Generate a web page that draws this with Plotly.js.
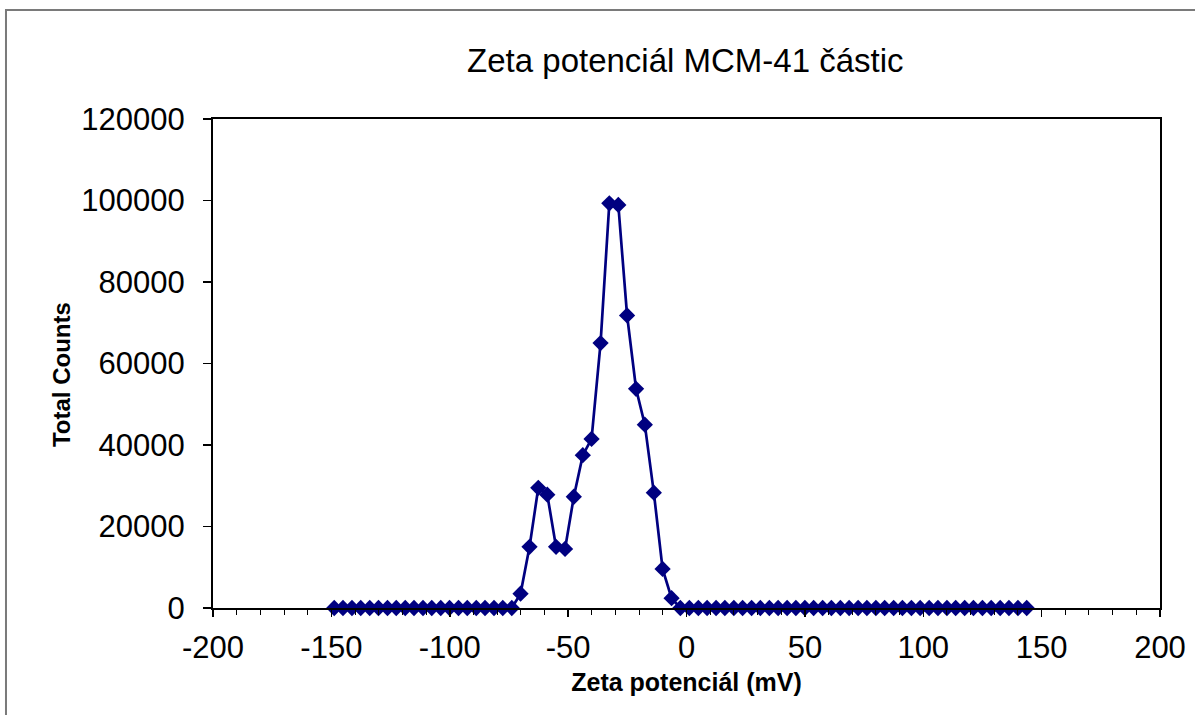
<!DOCTYPE html>
<html>
<head>
<meta charset="utf-8">
<script src="https://cdn.plot.ly/plotly-3.0.1.min.js"></script>
<style>
  html, body { margin: 0; padding: 0; background: #ffffff; overflow: hidden; }
  #chart { width: 1195px; height: 715px; }
</style>
</head>
<body>
<div id="chart"></div>
<script>
// Zeta potential bins (mV)
const zetaPotential = [
  -148.8, -145.1, -141.3, -137.6, -133.8, -130.1, -126.3, -122.6, -118.8, -115.1,
  -111.3, -107.6, -103.8, -100.1, -96.3, -92.6, -88.8, -85.1, -81.3, -77.6,
  -73.8, -70.1, -66.3, -62.6, -58.8, -55.1, -51.3, -47.6, -43.8, -40.1,
  -36.3, -32.6, -28.8, -25.1, -21.3, -17.6, -13.8, -10.1, -6.3, -2.6,
  1.2, 5.0, 8.7, 12.5, 16.2, 20.0, 23.7, 27.5, 31.2, 35.0,
  38.7, 42.5, 46.2, 50.0, 53.7, 57.5, 61.2, 65.0, 68.7, 72.5,
  76.2, 80.0, 83.7, 87.5, 91.2, 95.0, 98.7, 102.5, 106.2, 110.0,
  113.7, 117.5, 121.2, 125.0, 128.7, 132.5, 136.2, 140.0, 143.7
];
// Total counts per bin
const totalCounts = [
  0, 0, 0, 0, 0, 0, 0, 0, 0, 0,
  0, 0, 0, 0, 0, 0, 0, 0, 0, 0,
  0, 3500, 15000, 29500, 27800, 15000, 14500, 27300, 37500, 41500,
  65000, 99300, 98900, 71800, 53800, 45000, 28300, 9600, 2400, 0,
  0, 0, 0, 0, 0, 0, 0, 0, 0, 0,
  0, 0, 0, 0, 0, 0, 0, 0, 0, 0,
  0, 0, 0, 0, 0, 0, 0, 0, 0, 0,
  0, 0, 0, 0, 0, 0, 0, 0, 0
];
// Axis tick values and labels
const xTickVals = [-200, -150, -100, -50, 0, 50, 100, 150, 200];
const xTickText = ['-200', '-150', '-100', '-50', '0', '50', '100', '150', '200'];
const yTickVals = [0, 20000, 40000, 60000, 80000, 100000, 120000];
const yTickText = ['0', '20000', '40000', '60000', '80000', '100000', '120000'];

const chartTitle = 'Zeta potenciál MCM-41 částic';
const xTitle = 'Zeta potenciál (mV)';
const yTitle = 'Total Counts';

const font = 'Liberation Sans, Arial, sans-serif';

const trace = {
  x: zetaPotential,
  y: totalCounts,
  type: 'scatter',
  mode: 'lines+markers',
  line: { color: '#000080', width: 2.7 },
  marker: { symbol: 'diamond', size: 12.5, color: '#000080', line: { width: 0 } },
  cliponaxis: false,
  hoverinfo: 'x+y'
};

const layout = {
  width: 1195,
  height: 715,
  paper_bgcolor: '#ffffff',
  plot_bgcolor: '#ffffff',
  margin: { l: 213, r: 35, t: 119, b: 107, pad: 0 },
  showlegend: false,
  title: {
    text: chartTitle,
    font: { family: font, size: 33, color: '#000000' },
    x: 0.5735, xanchor: 'center',
    y: 0.916, yanchor: 'middle'
  },
  xaxis: {
    range: [-200, 200],
    tickmode: 'array', tickvals: xTickVals, ticktext: xTickText,
    ticks: 'outside', ticklen: 7, tickwidth: 1.5, tickcolor: '#000000',
    minor: { dtick: 10, tick0: 0, ticks: 'outside', ticklen: 5, tickwidth: 1, tickcolor: '#000000', showgrid: false },
    showline: true, linecolor: '#000000', linewidth: 2, mirror: true,
    showgrid: false, zeroline: false,
    tickfont: { family: font, size: 31, color: '#000000' },
    ticklabelstandoff: 4,
    title: { text: xTitle, font: { family: font, size: 25, color: '#000000', weight: 'bold' }, standoff: 9 }
  },
  yaxis: {
    range: [0, 120000],
    tickmode: 'array', tickvals: yTickVals, ticktext: yTickText,
    ticks: 'outside', ticklen: 8, tickwidth: 1.5, tickcolor: '#000000',
    showline: true, linecolor: '#000000', linewidth: 2, mirror: true,
    showgrid: false, zeroline: false,
    tickfont: { family: font, size: 31, color: '#000000' },
    ticklabelstandoff: 12
  },
  annotations: [{
    text: yTitle,
    xref: 'paper', yref: 'paper',
    x: -0.1594, y: 0.4765,
    xanchor: 'center', yanchor: 'middle',
    textangle: -90,
    showarrow: false,
    font: { family: font, size: 24, color: '#000000', weight: 'bold' }
  }],
  shapes: [{
    type: 'rect',
    xref: 'paper', yref: 'paper',
    x0: -0.2186, x1: 1.4,
    y0: -0.6, y1: 1.2229,
    line: { color: '#7a7a7a', width: 2 },
    fillcolor: 'rgba(0,0,0,0)',
    layer: 'below'
  }]
};

Plotly.newPlot('chart', [trace], layout, { displayModeBar: false, staticPlot: true });
</script>
</body>
</html>
